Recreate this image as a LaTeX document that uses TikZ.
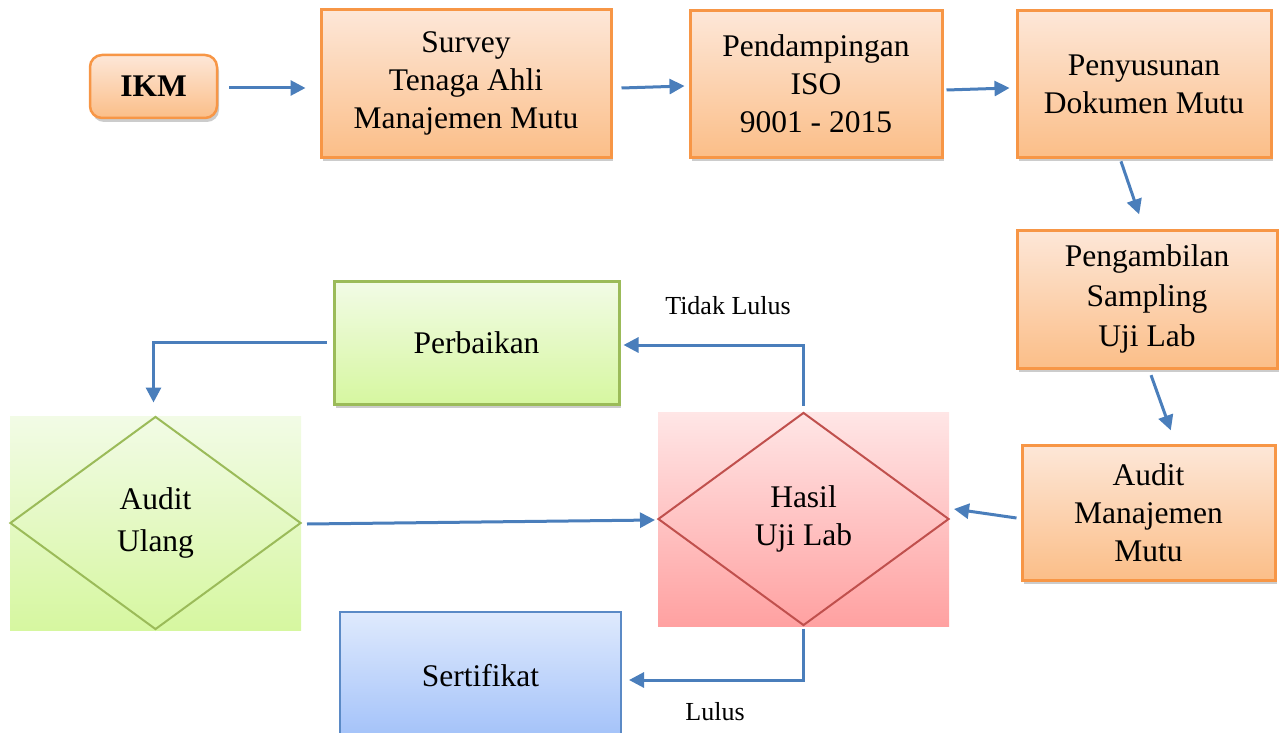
\documentclass[tikz,border=0pt]{standalone}
\usepackage{fontspec}
\setmainfont{Liberation Serif}
\usepackage{tikz}
\usetikzlibrary{arrows.meta,shapes.geometric,shadows,calc}

\definecolor{oranye}{HTML}{F79646}
\definecolor{oranyeatas}{HTML}{FDE7D8}
\definecolor{oranyebawah}{HTML}{FBBE88}
\definecolor{hijau}{HTML}{9BBB59}
\definecolor{hijauatas}{HTML}{F2FBE6}
\definecolor{hijaubawah}{HTML}{D6F7A0}
\definecolor{merah}{HTML}{C0504D}
\definecolor{merahatas}{HTML}{FFE6E6}
\definecolor{merahbawah}{HTML}{FFA1A1}
\definecolor{biru}{HTML}{5B8AC6}
\definecolor{biruatas}{HTML}{DFEAFD}
\definecolor{birubawah}{HTML}{A2C1F9}
\definecolor{panah}{HTML}{4A7EBB}

\begin{document}
\begin{tikzpicture}[
    x=1pt, y=-1pt,
    >={Triangle[length=15pt,width=15pt]},
    every node/.style={font=\fontsize{31.5}{38}\selectfont, align=center, inner sep=0pt},
    kotak/.style={
        draw=oranye, line width=3pt,
        top color=oranyeatas, bottom color=oranyebawah,
        drop shadow={shadow xshift=2pt, shadow yshift=-4pt, fill=black!40, opacity=0.5}
    },
    kotakhijau/.style={
        draw=hijau, line width=3pt,
        top color=hijauatas, bottom color=hijaubawah,
        drop shadow={shadow xshift=2pt, shadow yshift=-4pt, fill=black!40, opacity=0.5}
    },
    latarmerah/.style={top color=merahatas, bottom color=merahbawah},
    latarhijau/.style={top color=hijauatas, bottom color=hijaubawah},
    belah/.style={diamond, draw, line width=2pt},
    panahgaris/.style={->, line width=3pt, panah},
    teksbawah/.style={font=\fontsize{26}{31}\selectfont}
]

\useasboundingbox (0,0) rectangle (1279,733);

% IKM
\node[
    kotak,
    line width=2.5pt,
    rounded corners=12pt,
    minimum width=127pt,
    minimum height=63pt
] (ikm) at (153.5,86.5) {\textbf{IKM}};

% Baris atas
\node[kotak, minimum width=290pt, minimum height=147pt] (survey) at (466,83.5)
    {Survey\\Tenaga Ahli\\Manajemen Mutu};
\node[kotak, minimum width=252pt, minimum height=146pt] (pendampingan) at (816,84)
    {Pendampingan\\ISO\\9001 - 2015};
\node[kotak, minimum width=254pt, minimum height=146pt] (penyusunan) at (1144,84)
    {Penyusunan\\Dokumen Mutu};

% Kolom kanan
\node[
    kotak,
    font=\fontsize{31.5}{40}\selectfont,
    minimum width=260pt,
    minimum height=138pt
] (pengambilan) at (1147,299) {Pengambilan\\Sampling\\Uji Lab};
\node[kotak, minimum width=253pt, minimum height=135pt] (auditmm) at (1148.5,512.5)
    {Audit\\Manajemen\\Mutu};

% Hasil uji lab
\node[latarmerah, minimum width=291pt, minimum height=214pt] (hasillatar) at (803.5,519) {};
\node[belah, draw=merah, minimum width=291pt, minimum height=213pt] (hasil) at (803.5,519)
    {Hasil\\Uji Lab};

% Perbaikan
\node[kotakhijau, minimum width=285pt, minimum height=123pt] (perbaikan) at (476.5,342.5)
    {Perbaikan};

% Audit ulang
\node[latarhijau, minimum width=291pt, minimum height=214pt] (ulanglatar) at (155.5,523) {};
\node[
    belah,
    draw=hijau,
    font=\fontsize{31.5}{42}\selectfont,
    minimum width=291pt,
    minimum height=213pt
] (auditulang) at (155.5,523) {Audit\\Ulang};

% Sertifikat
\node[
    draw=biru,
    line width=2pt,
    top color=biruatas,
    bottom color=birubawah,
    minimum width=281pt,
    minimum height=128pt
] (sertifikat) at (480.5,676) {Sertifikat};

% Label
\node[teksbawah] (tidaklulus) at (728,306) {Tidak Lulus};
\node[teksbawah] (lulus) at (715,712) {Lulus};

% Panah baris atas
\draw[panahgaris] ($(ikm.east)+(11,1.5)$) -- ($(survey.west)+(-14,4.5)$);
\draw[panahgaris] ($(survey.east)+(9,4.5)$) -- ($(pendampingan.west)+(-4,2)$);
\draw[panahgaris] ($(pendampingan.east)+(3,6)$) -- ($(penyusunan.west)+(-6,4)$);

% Panah kolom kanan
\draw[
    panahgaris,
    shorten <=3pt,
    shorten >=15pt
] ($(penyusunan.south)+(-24,0)$) -- ($(pengambilan.north)+(-3,0)$);
\draw[
    panahgaris,
    shorten <=6pt,
    shorten >=14pt
] ($(pengambilan.south)+(2,0)$) -- ($(auditmm.north)+(27,0)$);
\draw[panahgaris] ($(auditmm.west)+(-4,5.5)$) -- ($(hasil.east)+(4,-10)$);

% Tidak lulus
\draw[panahgaris] ($(hasil.north)+(0,-6)$) |- ($(perbaikan.east)+(3,2.5)$);
\draw[panahgaris] ($(perbaikan.west)+(-6,0)$) -| ($(auditulang.north)+(-2,-13)$);
\draw[panahgaris] ($(auditulang.east)+(5,1)$) -- ($(hasil.west)+(-2,1)$);

% Lulus
\draw[panahgaris] ($(hasil.south)+(0,2)$) |- ($(sertifikat.east)+(7,4)$);

\end{tikzpicture}
\end{document}
